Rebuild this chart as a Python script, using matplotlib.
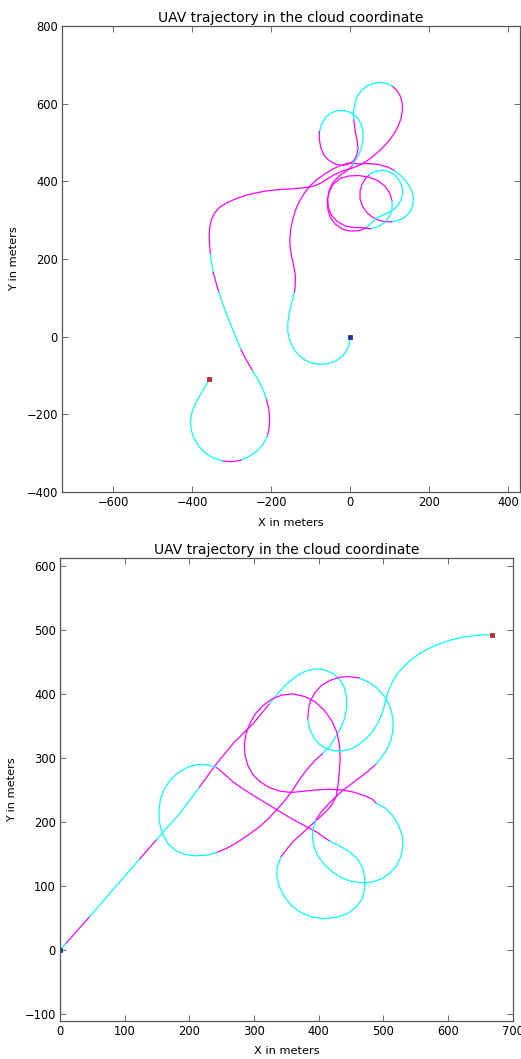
import numpy as np
import matplotlib
matplotlib.use('Agg')
import matplotlib.pyplot as plt

# trajetoria 1 (metros)
top_x = [0, -1, -5, -13, -25, -40, -58, -77, -97, -115, -131, -144, -153, -158, -158, -155, -150, -145, -141,
         -139, -139, -143, -148, -152, -153, -151, -146, -139, -129, -116, -101, -84, -66, -47, -27, -5,
         20, 45, 70, 95, 112, 130, 145, 155, 160, 159, 154, 145, 134, 120, 105, 88, 72, 56, 42, 31, 25, 25, 30, 38, 48,
         62, 80, 98, 113, 124, 131, 133, 130, 123, 112, 98, 84, 68,
         54, 40, 22, 0, -20, -38, -51, -57, -58, -53, -42, -25, -3, 22, 47, 70, 88, 100, 106, 106, 100, 88, 72,
         52, 30, 10, -12, -32, -47, -55, -57, -53, -43, -28, -10,
         5, 14, 22, 29, 32, 32, 28, 19, 5, -12, -30, -47, -62, -72, -78, -78, -74, -66, -54, -38, -22,
         -5, 8, 16, 20, 18, 14, 11, 9, 9, 12, 18, 28, 42, 58, 76, 93, 108, 120, 128, 132, 132, 129, 122, 112, 100,
         86, 71, 56, 40, 22, 2, -18, -37,
         -54, -70, -86, -104, -130, -160, -190, -215, -240, -265, -290, -312, -331, -344, -352, -356, -357, -356,
         -354, -351, -347, -340, -333, -323, -312, -300, -288, -276, -262, -247, -232, -220, -212, -206, -204,
         -205, -210, -220, -235, -255, -277, -300, -323, -345, -365, -382, -395, -403, -405, -400, -390, -377,
         -364, -358]
top_y = [0, -12, -27, -42, -55, -64, -70, -71, -68, -60, -47, -30, -10, 12, 35, 58, 80, 100, 116,
         135, 159, 182, 205, 228, 250, 275, 300, 325, 348, 370, 389, 405, 418, 430, 440, 447,
         445, 446, 444, 437, 428, 413, 395, 378, 360, 342, 326, 314, 305, 299, 296, 296, 300, 308, 320, 336, 355, 375, 393, 406, 417,
         425, 429, 425, 416, 403, 388, 372, 356, 341, 329, 320, 314, 306,
         293, 280, 273, 272, 277, 290, 308, 330, 352, 374, 394, 408, 414, 415, 411, 402, 388, 370, 350, 330, 311, 295, 284,
         278, 281, 281, 285, 296, 312, 332, 355, 378, 398, 414, 426,
         440, 455, 470, 488, 508, 528, 547, 563, 575, 582, 583, 577, 565, 548, 528, 506, 485, 467, 454, 445, 441,
         444, 452, 466, 484, 503, 522, 542, 560, 580, 600, 619, 634, 645, 652, 655, 652, 644, 632, 617, 600, 582, 563, 543, 524, 507,
         491, 476, 463, 451, 441, 433, 427, 419,
         409, 398, 390, 385, 382, 380, 378, 375, 370, 364, 355, 345, 333, 318, 300, 280, 258, 235,
         212, 190, 165, 140, 115, 85, 55, 25, -5, -35, -62, -88, -113, -138, -162, -186, -210,
         -234, -256, -276, -293, -308, -318, -322, -320, -313, -301, -284, -263, -240, -216, -192, -168, -145,
         -123, -108]
# cor do trecho que sai de cada ponto (c = ciano, m = magenta)
top_c = ("c" * 18 + "m"
         + "m" * 17
         + "m" * 4 + "c" * 10 + "m" * 10 + "c"
         + "c" * 13
         + "c" + "m" * 17 + "c" * 5
         + "m" * 12
         + "c" * 14 + "m" * 7
         + "m" * 7 + "c" * 9 + "m" * 17
         + "m" * 18 + "cc" + "mm" + "c" * 5 + "mm" + "ccc" + "mmmm" + "cccc" + "mm" + "c" * 12)

# trajetoria 2
bot_x = [0, 10, 46, 82, 124, 149, 185, 216, 242, 268, 299, 324, 337, 350, 364, 378, 393, 408, 422, 433,
         440, 443, 443, 440, 434, 426, 417,
         405, 394, 381, 370, 360, 348, 335, 322, 309, 293, 277, 260, 242, 226, 210,
         194, 179, 167, 159, 154, 153, 155, 161, 171, 184, 199, 214, 229, 242,
         255, 268, 281, 293, 306, 319, 332, 345, 358, 371, 384, 397, 408,
         417, 433, 448, 460, 468, 471, 471, 467, 458, 445, 428, 409, 390, 373, 358, 347, 339, 335, 336, 342,
         351, 360, 373, 386, 399, 412, 421, 427,
         430, 432, 433, 432, 428, 420, 408, 394, 378, 360, 342, 326, 313, 302, 294, 288, 285, 286, 290, 298,
         309, 323, 340, 358, 377, 396, 416, 435, 452, 468, 482,
         489, 502, 514, 523, 529, 530, 527, 520, 510, 497, 482, 466, 450, 435, 421, 409, 399, 393, 390, 391,
         396, 404, 414, 426, 438, 450, 463, 476, 488,
         497, 505, 511, 514, 515, 513, 508, 500, 489, 476, 462, 447, 432, 417, 404, 394, 387, 384, 383, 386,
         392, 400, 411, 424, 437, 450, 462, 473, 483, 491, 497, 501, 504, 508, 514, 521, 530, 541, 553, 566,
         581, 597, 614, 632, 650, 668]
bot_y = [0, 11, 52, 94, 143, 172, 213, 255, 291, 323, 354, 385, 401, 415, 427, 435, 439, 438, 432, 422,
         409, 394, 378, 362, 347, 333, 318,
         306, 296, 281, 266, 250, 234, 219, 205, 193, 181, 170, 160, 152, 148, 147,
         149, 155, 166, 181, 198, 216, 234, 251, 266, 278, 286, 290, 289, 285,
         274, 262, 253, 245, 237, 229, 221, 213, 205, 198, 191, 184, 176,
         170, 162, 153, 142, 128, 112, 96, 80, 67, 57, 51, 49, 51, 58, 69, 83, 99, 115, 130, 146,
         158, 169, 181, 193, 205, 217, 228, 240,
         260, 280, 300, 320, 340, 358, 375, 388, 396, 400, 398, 391, 381, 369, 355, 339, 322, 305, 289, 274,
         263, 254, 248, 246, 248, 250, 251, 250, 247, 242, 236,
         229, 222, 210, 195, 179, 162, 146, 131, 120, 111, 106, 105, 107, 113, 122, 133, 146, 160, 175, 190,
         204, 216, 227, 239, 250, 259, 269, 279, 290,
         301, 313, 326, 340, 355, 370, 385, 398, 410, 419, 425, 427, 426, 421, 413, 402, 389, 375, 360, 345,
         332, 322, 315, 311, 311, 314, 321, 330, 341, 354, 367, 380, 393, 406, 419, 431, 441, 452, 461, 469,
         476, 482, 487, 490, 492, 492]
bot_c = ("cmccmccmmmm" + "c" * 16
         + "m" * 12 + "ccc"
         + "c" * 13 + "m"
         + "m" * 13
         + "c" * 19 + "m" * 9
         + "m" * 31
         + "c" * 20 + "m" * 8 + "c"
         + "c" * 10 + "m" * 8 + "c" * 28)

assert len(top_x) == len(top_y) == len(top_c), (len(top_x), len(top_y), len(top_c))
assert len(bot_x) == len(bot_y) == len(bot_c), (len(bot_x), len(bot_y), len(bot_c))

cores = {'c': '#00ffff', 'm': '#ff00ff'}
xt_top = [-600, -400, -200, 0, 200, 400]
yt_top = [-400, -200, 0, 200, 400, 600, 800]
xt_bot = [0, 100, 200, 300, 400, 500, 600, 700]
yt_bot = [-100, 0, 100, 200, 300, 400, 500, 600]


def desenha(ax, xs, ys, cs):
    n = len(xs) - 1
    ini = 0
    for i in range(1, n + 1):
        if i == n or cs[i] != cs[ini]:
            ax.plot(xs[ini:i + 1], ys[ini:i + 1], color=cores[cs[ini]], lw=0.9)
            ini = i
    ax.plot(xs[0], ys[0], 's', color='#1030c0', ms=2.5, mec='#202060', mew=0.5)
    ax.plot(xs[-1], ys[-1], 's', color='#e02030', ms=2.5, mec='#802030', mew=0.5)


def estilo(ax, xt, yt):
    ax.set_title('UAV trajectory in the cloud coordinate', fontsize=10, pad=3)
    ax.set_xlabel('X in meters', fontsize=8.2, labelpad=6)
    ax.set_ylabel('Y in meters', fontsize=8.2, labelpad=5)
    ax.set_xticks(xt)
    ax.set_yticks(yt)
    ax.tick_params(direction='in', top=True, right=True, length=4, width=0.6,
                   labelsize=8.3, pad=3, color='#555555')
    for s in ax.spines.values():
        s.set_color('#555555')
        s.set_linewidth(0.9)


fig = plt.figure(figsize=(5.21, 10.59), dpi=100)

ax1 = fig.add_axes([0.119, 0.5354, 0.879, 0.440])
desenha(ax1, top_x, top_y, top_c)
ax1.set_xlim(-730, 430)
ax1.set_ylim(-400, 800)
estilo(ax1, xt_top, yt_top)

ax2 = fig.add_axes([0.115, 0.0359, 0.8695, 0.437])
desenha(ax2, bot_x, bot_y, bot_c)
ax2.set_xlim(0, 700)
ax2.set_ylim(-111, 612)
estilo(ax2, xt_bot, yt_bot)

fig.savefig('out.png', dpi=100)
